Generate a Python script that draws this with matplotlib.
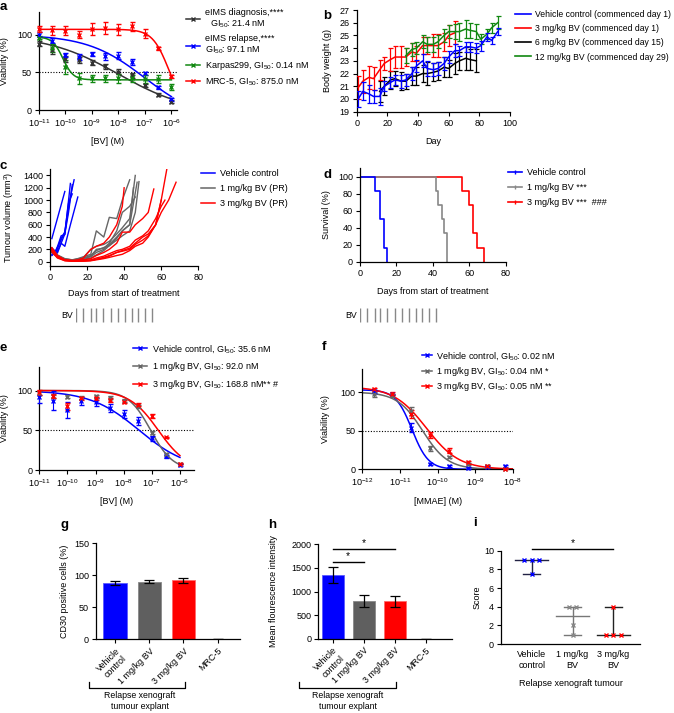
import numpy as np
import matplotlib
matplotlib.use("Agg")
import matplotlib.pyplot as plt
from matplotlib.lines import Line2D

plt.rcParams['font.family'] = ['Liberation Sans', 'DejaVu Sans']
plt.rcParams['mathtext.fontset'] = 'custom'
plt.rcParams['mathtext.rm'] = 'Liberation Sans'
plt.rcParams['mathtext.it'] = 'Liberation Sans:italic'
plt.rcParams['mathtext.bf'] = 'Liberation Sans:bold'
plt.rcParams['axes.linewidth'] = 0.9
plt.rcParams['xtick.labelsize'] = 6.5
plt.rcParams['ytick.labelsize'] = 6.5
plt.rcParams['axes.labelsize'] = 6.5

BLUE, RED, GREY, GREEN, DARK = '#0000ff', '#ff0000', '#666666', '#118811', '#333333'

# ---- a: cell line viability vs BV ----
dose_bv = [1e-11, 3.16e-11, 1e-10, 3.16e-10, 1e-9, 3.16e-9, 1e-8, 3.16e-8, 1e-7, 3.16e-7, 1e-6]
a_labels = ['eIMS diagnosis,****\n  GI$_{50}$: 21.4 nM', 'eIMS relapse,****\nGI$_{50}$: 97.1 nM',
            'Karpas299, GI$_{50}$: 0.14 nM', 'MRC-5, GI$_{50}$: 875.0 nM']
a_diag = [88, 80, 68, 66, 63, 58, 51, 46, 33, 20, 11]
a_diag_err = [3, 6, 4, 4, 3, 3, 3, 3, 2, 2, 2]
a_relapse = [100, 92, 73, 70, 74, 71, 72, 64, 49, 30, 14]
a_relapse_err = [3, 3, 3, 4, 3, 5, 5, 4, 2, 2, 2]
a_karpas = [96, 82, 57, 42, 42, 42, 42, 42, 41, 41, 30]
a_karpas_err = [2, 5, 9, 7, 5, 5, 6, 5, 5, 5, 4]
a_mrc5 = [108, 106, 105, 100, 107, 109, 107, 111, 101, 82, 45]
a_mrc5_err = [4, 6, 6, 5, 8, 8, 7, 6, 6, 2, 2]
# fitted curve parameters (top, bottom, log GI50 of fit, hill)
a_top = [100, 100, 97, 107]
a_bottom = [-5, -15, 40, 0]
a_logc = [-8.0, -7.0, -10.1, -6.1]
a_hill = [0.32, 0.4, 2.2, 1.4]

# ---- b: body weight ----
b_labels = ['Vehicle control (commenced day 1)', '3 mg/kg BV (commenced day 1)',
            '6 mg/kg BV (commenced day 15)', '12 mg/kg BV (commenced day 29)']
b_days_vehicle = [1, 4, 8, 11, 15, 18, 22, 25, 29, 32, 36, 39, 43, 46, 50, 53, 57, 60, 64, 67, 71, 74, 78, 81, 85, 88, 92]
b_vehicle = [20.0, 20.6, 20.4, 20.2, 20.2, 21.0, 21.3, 21.5, 21.4, 21.5, 22.0, 22.6, 23.0, 22.4, 22.3, 22.4,
             22.8, 23.3, 23.8, 23.8, 24.1, 24.1, 24.0, 24.2, 24.9, 24.6, 25.3]
b_vehicle_err = [0.6, 0.7, 0.7, 0.5, 0.7, 0.4, 0.4, 0.4, 0.5, 0.5, 0.5, 0.5, 0.5, 0.6, 0.5, 0.5, 0.5, 0.5, 0.5,
                 0.4, 0.4, 0.4, 0.4, 0.4, 0.3, 0.3, 0.3]
b_days_3mg = [1, 4, 8, 11, 15, 18, 22, 25, 29, 32, 36, 39, 43, 46, 50, 53, 57, 60, 64]
b_3mg = [20.9, 21.4, 21.7, 21.6, 22.3, 22.8, 23.1, 23.3, 23.3, 23.3, 23.7, 23.6, 24.2, 24.2, 24.2, 24.2, 24.5, 25.0, 25.2]
b_3mg_err = [0.9, 0.9, 0.9, 0.9, 0.8, 0.5, 0.9, 0.9, 0.9, 0.7, 0.7, 0.6, 0.7, 0.7, 0.9, 0.9, 0.7, 0.8, 0.9]
b_days_6mg = [15, 18, 22, 25, 29, 32, 36, 39, 43, 46, 50, 53, 57, 60, 64, 67, 71, 74, 78]
b_6mg = [20.6, 21.0, 21.5, 21.6, 21.4, 21.4, 21.8, 21.8, 22.0, 22.0, 22.1, 22.2, 22.5, 22.4, 22.8, 23.0, 23.2, 23.1, 23.0]
b_6mg_err = [0.8, 0.7, 0.7, 0.6, 0.7, 0.6, 0.7, 0.7, 0.7, 0.9, 0.7, 0.7, 0.8, 0.7, 0.8, 0.7, 0.9, 0.8, 0.9]
b_days_12mg = [32, 36, 39, 43, 46, 50, 53, 57, 60, 64, 67, 71, 74, 78, 81, 85, 88, 92]
b_12mg = [23.4, 23.9, 24.0, 24.5, 24.3, 24.3, 24.5, 25.0, 25.3, 25.3, 25.3, 25.5, 25.4, 25.3, 24.7, 25.1, 25.6, 26.0]
b_12mg_err = [0.6, 0.5, 0.5, 0.5, 0.6, 0.6, 0.5, 0.5, 0.5, 0.6, 0.7, 0.7, 0.6, 0.6, 0.4, 0.4, 0.4, 0.5]

# ---- c: individual tumour volumes ----
group_labels = ['Vehicle control', '1 mg/kg BV (PR)', '3 mg/kg BV (PR)']
c_vehicle = [
    ([1, 8], [375, 1140]),
    ([1, 3, 6, 8, 11, 13], [200, 120, 380, 480, 1050, 1330]),
    ([1, 3, 6, 8, 11], [100, 150, 420, 440, 1270]),
    ([1, 3, 6, 8, 10, 12], [150, 100, 300, 450, 800, 1250]),
    ([1, 4, 6, 8, 11, 15], [220, 140, 300, 250, 600, 1050]),
    ([1, 3, 6, 8, 10, 12], [120, 180, 350, 480, 950, 1100]),
]
c_1mg = [
    ([1, 4, 8, 12, 15, 18, 22, 25, 29, 32, 36, 39, 43], [200, 100, 40, 30, 50, 80, 120, 500, 400, 720, 700, 1000, 1330]),
    ([1, 4, 8, 12, 15, 18, 22, 25, 29, 32, 36, 39, 43, 46], [180, 90, 30, 25, 40, 70, 200, 250, 280, 330, 450, 550, 700, 1400]),
    ([1, 4, 8, 12, 15, 18, 22, 25, 29, 32, 36, 39, 43, 46, 48], [150, 80, 35, 20, 30, 60, 100, 180, 230, 260, 350, 420, 500, 800, 1300]),
    ([1, 4, 8, 12, 15, 18, 22, 25, 29, 32, 36, 39, 43, 46], [220, 110, 50, 30, 40, 50, 90, 200, 220, 300, 500, 800, 900, 1050]),
    ([1, 4, 8, 12, 15, 18, 22, 25, 29, 32, 36, 39, 43, 45], [200, 100, 40, 30, 35, 60, 80, 150, 200, 280, 400, 500, 600, 1200]),
    ([1, 4, 8, 12, 15, 18, 22, 25, 29, 32, 36, 39, 43, 47], [160, 70, 30, 20, 25, 40, 60, 110, 180, 260, 380, 500, 600, 1290]),
]
c_3mg = [
    ([1, 4, 8, 12, 15, 18, 22, 25, 29, 32, 36, 39, 40], [230, 100, 30, 20, 30, 60, 200, 250, 300, 400, 600, 900, 1200]),
    ([1, 4, 8, 12, 15, 18, 22, 25, 29, 32, 36, 39, 43, 46, 50, 53, 57, 60, 63],
     [200, 80, 20, 10, 10, 15, 20, 40, 60, 90, 150, 180, 220, 300, 400, 450, 600, 1000, 1500]),
    ([1, 4, 8, 12, 15, 18, 22, 25, 29, 32, 36, 39, 43, 46, 50, 53, 57, 60, 64, 68],
     [180, 70, 20, 10, 10, 10, 15, 30, 50, 70, 100, 120, 180, 250, 300, 400, 600, 800, 1000, 1290]),
    ([1, 4, 8, 12, 15, 18, 22, 25, 29, 32, 36, 39, 43, 46, 50, 53, 56],
     [220, 90, 30, 15, 20, 30, 50, 100, 150, 200, 300, 480, 480, 600, 700, 800, 1180]),
    ([1, 4, 8, 12, 15, 18, 22, 25, 29, 32, 36, 39, 43, 46, 50, 53, 57, 60],
     [160, 60, 15, 10, 10, 10, 20, 40, 70, 100, 150, 170, 200, 280, 350, 420, 600, 1000]),
    ([1, 4, 8, 12, 15, 18, 22, 25, 29, 32, 36, 39, 43, 46, 50, 53, 57, 60, 62],
     [200, 80, 25, 15, 15, 20, 30, 60, 90, 130, 180, 200, 250, 350, 420, 500, 700, 900, 1000]),
]
bv_dose_days = [0, 4, 8, 11, 15, 19, 23, 27, 31, 34, 38, 42]

# ---- d: survival ----
d_labels = ['Vehicle control', '1 mg/kg BV ***', '3 mg/kg BV ***  ###']
d_t_vehicle, d_s_vehicle = [0, 8, 11, 13, 15], [100, 83.3, 50, 16.7, 0]
d_t_1mg, d_s_1mg = [0, 42, 43, 45, 46, 48], [100, 83.3, 66.7, 50, 33.3, 0]
d_t_3mg, d_s_3mg = [0, 56, 60, 62, 64, 68], [100, 83.3, 66.7, 33.3, 16.7, 0]

# ---- e: explant viability vs BV ----
e_labels = ['Vehicle control, GI$_{50}$: 35.6 nM', '1 mg/kg BV, GI$_{50}$: 92.0 nM',
            '3 mg/kg BV, GI$_{50}$: 168.8 nM** #']
e_vehicle = [92, 87, 75, 87, 86, 78, 71, 62, 40, 17, 6]
e_vehicle_err = [8, 12, 10, 5, 5, 5, 5, 5, 3, 2, 1]
e_1mg = [97, 93, 92, 91, 93, 91, 87, 80, 47, 20, 8]
e_1mg_err = [2, 2, 2, 2, 2, 2, 2, 2, 2, 2, 1]
e_3mg = [98, 93, 80, 90, 90, 88, 86, 82, 68, 41, 8]
e_3mg_err = [3, 3, 4, 2, 2, 2, 2, 2, 3, 1, 1]
e_top, e_bottom = [100, 100, 100], [0, 0, 0]
e_logc, e_hill = [-7.45, -7.04, -6.77], [0.5, 1.1, 0.85]

# ---- f: explant viability vs MMAE ----
dose_mmae = [2e-12, 6.3e-12, 2e-11, 6.3e-11, 2e-10, 6.3e-10, 2e-9, 6.3e-9]
f_labels = ['Vehicle control, GI$_{50}$: 0.02 nM', '1 mg/kg BV, GI$_{50}$: 0.04 nM *',
            '3 mg/kg BV, GI$_{50}$: 0.05 nM **']
f_vehicle = [101, 97, 54, 7, 4, 2, 3, 4]
f_vehicle_err = [2, 1, 6, 1, 1, 1, 1, 1]
f_1mg = [97, 96, 76, 27, 16, 7, 4, 1]
f_1mg_err = [3, 2, 5, 3, 1, 1, 1, 1]
f_3mg = [104, 98, 72, 44, 24, 9, 4, 1]
f_3mg_err = [2, 2, 5, 4, 3, 2, 1, 1]
f_top, f_bottom = [103, 100, 107], [0, 0, 0]
f_logc, f_hill = [-10.68, -10.4, -10.3], [2.0, 1.3, 1.0]

# ---- g, h: explant CD30 ----
bar_labels = ['Vehicle\ncontrol', '1 mg/kg BV', '3 mg/kg BV', 'MRC-5']
g_vals = [88, 90, 92, 0.5]
g_err = [3, 2, 3.5, 0.3]
h_vals = [1350, 800, 790, 0]
h_err = [170, 120, 110, 0]

# ---- i: histology score ----
i_labels = ['Vehicle\ncontrol', '1 mg/kg\nBV', '3 mg/kg\nBV']
i_scores = [[9, 9, 9, 7.5], [4, 4, 2, 1], [4, 1, 1, 1]]

W, H = 674, 713
fig = plt.figure(figsize=(W / 100, H / 100), dpi=100)


def add_ax(l, t, r, b):
    ax = fig.add_axes([l / W, 1 - b / H, (r - l) / W, (b - t) / H])
    ax.px = (l, t, r, b)
    ax.spines[['top', 'right']].set_visible(False)
    ax.tick_params(length=3, width=0.8, pad=2)
    return ax


def ylab(ax, text, x):
    # x is the right edge of the rotated label, in figure pixels
    l, t, r, b = ax.px
    ax.set_ylabel(text)
    ax.yaxis.set_label_coords((x - l) / (r - l), 0.5)


def xlab(ax, text, y):
    l, t, r, b = ax.px
    ax.set_xlabel(text)
    ax.xaxis.set_label_coords(0.5, (b - y) / (b - t))


def legend(ax, handles, labels, x, y, **kw):
    opts = dict(loc='upper left', bbox_to_anchor=(x / W, 1 - y / H), bbox_transform=fig.transFigure,
                frameon=False, fontsize=6.5, borderpad=0, handlelength=1.6, handletextpad=0.5,
                labelspacing=0.5, borderaxespad=0)
    opts.update(kw)
    ax.legend(handles, labels, **opts)


def logistic(x, top, bottom, logc, hill):
    return bottom + (top - bottom) / (1 + 10 ** ((np.log10(x) - logc) * hill))


def dose_panel(ax, doses, series, errs, colors, top, bottom, logc, hill, lo, hi):
    xs = np.logspace(lo, hi, 200)
    for k in range(len(series)):
        ax.plot(xs, logistic(xs, top[k], bottom[k], logc[k], hill[k]), color=colors[k], lw=1.1, zorder=2)
        ax.errorbar(doses, series[k], yerr=errs[k], fmt='x', color=colors[k], ms=3.5, mew=1,
                    elinewidth=0.8, capsize=1.8, capthick=0.8, zorder=3, clip_on=False)
    ax.axhline(50, color='black', ls=(0, (1, 1.5)), lw=0.8, zorder=1)
    ax.set_xscale('log')
    ax.minorticks_off()


def handles(colors, marker='x'):
    return [Line2D([], [], color=c, marker=marker, ms=3.5, mew=1, lw=1.1) for c in colors]


# ===== a =====
ax = add_ax(39, 12, 177, 110)
cols_a = [DARK, BLUE, GREEN, RED]
dose_panel(ax, dose_bv, [a_diag, a_relapse, a_karpas, a_mrc5], [a_diag_err, a_relapse_err, a_karpas_err, a_mrc5_err],
           cols_a, a_top, a_bottom, a_logc, a_hill, -11, -6)
ax.set_xlim(1e-11, 10 ** -5.79)
ax.set_ylim(0, 130)
ax.set_xticks([1e-11, 1e-10, 1e-9, 1e-8, 1e-7, 1e-6])
ax.set_yticks([0, 50, 100])
ylab(ax, 'Viability (%)', 9)
xlab(ax, '[BV] (M)', 137)
legend(ax, handles(cols_a), a_labels, 186, 8, labelspacing=0.45)

# ===== b =====
ax = add_ax(356.7, 10, 510, 111.7)
b_sets = [(b_days_vehicle, b_vehicle, b_vehicle_err, BLUE, 5), (b_days_3mg, b_3mg, b_3mg_err, RED, 3),
          (b_days_6mg, b_6mg, b_6mg_err, 'black', 2), (b_days_12mg, b_12mg, b_12mg_err, GREEN, 4)]
for d, v, e, c, z in b_sets:
    ax.errorbar(d, v, yerr=e, color=c, lw=1.1, elinewidth=0.9, capsize=1.8, capthick=0.9, zorder=z)
ax.set_xlim(0, 100)
ax.set_ylim(19, 27)
ax.set_xticks(range(0, 101, 20))
ax.set_yticks(range(19, 28))
ylab(ax, 'Body weight (g)', 332)
xlab(ax, 'Day', 137)
legend(ax, [Line2D([], [], color=s[3], lw=1.2) for s in b_sets], b_labels, 515, 10,
       fontsize=6.2, handlelength=1.8, labelspacing=0.6)

# ===== c =====
ax = add_ax(50, 169.3, 198.3, 266)
for lines, c in [(c_vehicle, BLUE), (c_1mg, GREY), (c_3mg, RED)]:
    for d, v in lines:
        ax.plot(d, v, color=c, lw=1)
ax.set_xlim(0, 80)
ax.set_ylim(-70, 1500)
ax.set_xticks(range(0, 81, 20))
ax.set_yticks(range(0, 1401, 200))
ylab(ax, 'Tumour volume (mm$^3$)', 16)
xlab(ax, 'Days from start of treatment', 289)
legend(ax, [Line2D([], [], color=c, lw=1.1) for c in [BLUE, GREY, RED]], group_labels, 201, 169,
       labelspacing=0.65)


def bv_row(l, y):
    bx = fig.add_axes([l / W, 1 - (y + 8) / H, 145.7 / W, 16 / H])
    bx.set_xlim(0, 80)
    bx.set_ylim(0, 1)
    bx.vlines(bv_dose_days, 0.05, 0.95, color='#888888', lw=1)
    bx.axis('off')
    fig.text((l - 3) / W, 1 - y / H, 'BV', ha='right', va='center', fontsize=6.3)


bv_row(76, 315)

# ===== d =====
ax = add_ax(360, 168.3, 505.7, 261.7)
d_sets = [(d_t_3mg, d_s_3mg, RED), (d_t_1mg, d_s_1mg, '#888888'), (d_t_vehicle, d_s_vehicle, BLUE)]
for t, s, c in d_sets:
    ax.step(t, s, where='post', color=c, lw=1.2)
ax.set_xlim(0, 80)
ax.set_ylim(0, 110)
ax.set_xticks(range(0, 81, 20))
ax.set_yticks(range(0, 101, 20))
ylab(ax, 'Survival (%)', 331)
xlab(ax, 'Days from start of treatment', 287)
legend(ax, [Line2D([], [], color=c, lw=1.2, marker='|', ms=3) for c in [BLUE, '#888888', RED]],
       d_labels, 508, 168, labelspacing=0.65)
bv_row(360, 315)

# ===== e =====
ax = add_ax(39.3, 366.7, 194, 470)
cols_e = [BLUE, GREY, RED]
dose_panel(ax, dose_bv, [e_vehicle, e_1mg, e_3mg], [e_vehicle_err, e_1mg_err, e_3mg_err],
           cols_e, e_top, e_bottom, e_logc, e_hill, -11, -6)
ax.set_xlim(1e-11, 10 ** -5.5)
ax.set_ylim(0, 130)
ax.set_xticks([1e-11, 1e-10, 1e-9, 1e-8, 1e-7, 1e-6])
ax.set_yticks([0, 50, 100])
ylab(ax, 'Viability (%)', 9)
xlab(ax, '[BV] (M)', 497)
legend(ax, handles(cols_e), e_labels, 133, 343, labelspacing=0.55)

# ===== f =====
ax = add_ax(362.3, 369, 513, 469.3)
dose_panel(ax, dose_mmae, [f_vehicle, f_1mg, f_3mg], [f_vehicle_err, f_1mg_err, f_3mg_err],
           cols_e, f_top, f_bottom, f_logc, f_hill, -12, -8)
ax.set_xlim(1e-12, 1e-8)
ax.set_ylim(0, 130)
ax.set_xticks([1e-12, 1e-11, 1e-10, 1e-9, 1e-8])
ax.set_yticks([0, 50, 100])
ylab(ax, 'Viability (%)', 330)
xlab(ax, '[MMAE] (M)', 497)
legend(ax, handles(cols_e), f_labels, 422, 350, labelspacing=0.3, handlelength=1.1)


# ===== g, h =====
def bracket(x0, x1, y, text, xc):
    fig.add_artist(Line2D([x0 / W, x0 / W, x1 / W, x1 / W], [1 - (y - 6) / H, 1 - y / H, 1 - y / H, 1 - (y - 6) / H],
                          color='black', lw=0.9))
    fig.text(xc / W, 1 - (y + 3) / H, text, ha='center', va='top', fontsize=6.3, linespacing=1.3)


bar_cols = [BLUE, '#5f5f5f', RED, 'black']
for (l, t, r, b), vals, errs, lim, ticks, lab, labx, xl in [
        ((96, 543.3, 240, 639.3), g_vals, g_err, 150, [0, 50, 100, 150], 'CD30 positive cells (%)', 69, (-0.57, 3.66)),
        ((318.3, 544, 451.7, 639), h_vals, h_err, 2000, [0, 500, 1000, 1500, 2000], 'Mean flourescence intensity', 278,
         (-0.47, 3.84))]:
    ax = add_ax(l, t, r, b)
    x = np.arange(len(vals))
    ax.bar(x, vals, width=0.7, color=bar_cols, edgecolor=['#5a5aff', '#888888', '#ff6a6a', 'black'], lw=0.6)
    ax.errorbar(x, vals, yerr=errs, fmt='none', ecolor='black', elinewidth=0.9, capsize=3.5, capthick=0.9)
    ax.set_ylim(0, lim)
    ax.set_xlim(*xl)
    ax.set_yticks(ticks)
    ax.set_xticks(x)
    ax.set_xticklabels(bar_labels, rotation=45, ha='right', rotation_mode='anchor', multialignment='center',
                       fontsize=6.5)
    ylab(ax, lab, labx)
    if vals is h_vals:
        for j, yv in [(1, 1630), (2, 1900)]:
            ax.plot([0, j], [yv, yv], color='black', lw=1, clip_on=False)
            ax.text(j / 2, yv + 20, '*', ha='center', va='bottom', fontsize=7.5)

bracket(89, 185, 688, 'Relapse xenograft\ntumour explant', 140)
bracket(299, 396, 688, 'Relapse xenograft\ntumour explant', 348)

# ===== i =====
ax = add_ax(501, 550.7, 640, 644)
i_cols = [BLUE, '#888888', RED]
line_cols = ['#222244', '#777777', '#222222']
for k, sc in enumerate(i_scores):
    sc = np.array(sc, dtype=float)
    med, lo, hi = np.median(sc), sc.min(), sc.max()
    lc = line_cols[k]
    ax.plot([k, k], [lo, hi], color=lc, lw=1)
    for v in (lo, hi):
        if v != med:
            ax.plot([k - 0.2, k + 0.2], [v, v], color=lc, lw=1)
    ax.plot([k - 0.4, k + 0.4], [med, med], color=lc, lw=1)
    # spread tied values side by side
    xs = np.zeros(len(sc))
    for v in np.unique(sc):
        idx = np.where(sc == v)[0]
        xs[idx] = k + (np.arange(len(idx)) - (len(idx) - 1) / 2) * 0.18
    ax.plot(xs, sc, 'x', color=i_cols[k], ms=3.5, mew=1, clip_on=False, zorder=3)
ax.plot([0, 2], [10.15, 10.15], color='black', lw=1, clip_on=False)
ax.text(1, 10.3, '*', ha='center', va='bottom', fontsize=7.5)
ax.set_xlim(-0.75, 2.65)
ax.set_ylim(0, 10)
ax.set_yticks(range(0, 11, 2))
ax.set_xticks(range(3))
ax.set_xticklabels(i_labels, fontsize=6.5, linespacing=1.3)
ax.tick_params(axis='x', length=0, pad=4)
ylab(ax, 'Score', 482)
xlab(ax, 'Relapse xenograft tumour', 679)

# panel letters
for letter, x, y in [('a', 0, 1), ('b', 323, 10), ('c', 0, 160), ('d', 323, 169), ('e', 0, 342),
                     ('f', 322, 341), ('g', 60, 519), ('h', 268, 519), ('i', 473, 517)]:
    fig.text(x / W, 1 - y / H, letter, fontsize=9.5, fontweight='bold', ha='left', va='top')

fig.savefig('out.png', dpi=100)
